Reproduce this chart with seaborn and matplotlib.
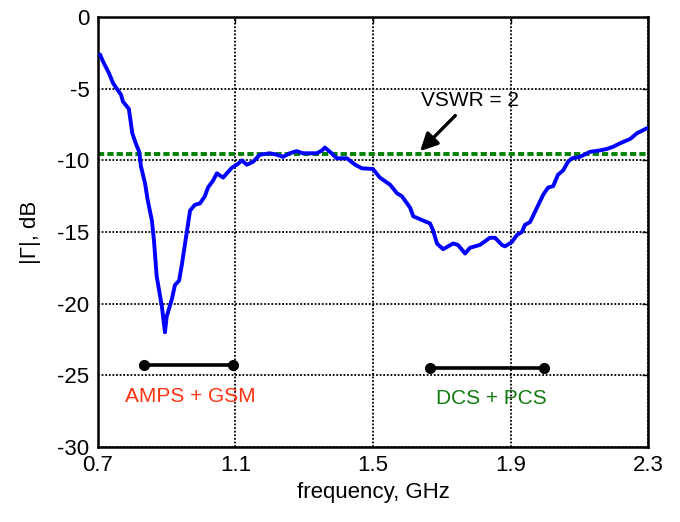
import numpy as np
import pandas as pd
import matplotlib
matplotlib.use('Agg')
import matplotlib.pyplot as plt
import seaborn as sns

freq_ghz = [0.706, 0.715, 0.732, 0.744, 0.755, 0.767, 0.773, 0.790, 0.800, 0.810,
            0.820, 0.825, 0.837, 0.845, 0.857, 0.863, 0.871, 0.886, 0.895, 0.900,
            0.915, 0.924, 0.936, 0.944, 0.956, 0.968, 0.982, 0.997, 1.011, 1.020,
            1.035, 1.046, 1.064, 1.090, 1.104, 1.119, 1.133, 1.151, 1.171, 1.200,
            1.220, 1.238, 1.258, 1.278, 1.296, 1.337, 1.352, 1.360, 1.375, 1.395,
            1.424, 1.448, 1.468, 1.500, 1.520, 1.550, 1.570, 1.584, 1.608, 1.617,
            1.646, 1.666, 1.675, 1.686, 1.704, 1.733, 1.747, 1.768, 1.782, 1.811,
            1.840, 1.855, 1.875, 1.884, 1.904, 1.919, 1.933, 1.942, 1.957, 1.977,
            1.995, 2.009, 2.024, 2.038, 2.053, 2.067, 2.079, 2.102, 2.131, 2.160,
            2.180, 2.198, 2.219, 2.248, 2.268, 2.297]
gamma_db = [-2.6, -3.1, -3.9, -4.6, -5.0, -5.4, -5.9, -6.4, -8.1, -8.8,
            -9.4, -10.4, -11.6, -12.8, -14.2, -15.6, -18.1, -20.2, -22.0, -20.9,
            -19.7, -18.7, -18.4, -17.3, -15.4, -13.5, -13.1, -13.0, -12.5, -11.9,
            -11.4, -10.9, -11.2, -10.5, -10.3, -10.0, -10.3, -10.1, -9.6, -9.5,
            -9.6, -9.75, -9.5, -9.35, -9.5, -9.5, -9.3, -9.1, -9.4, -9.85,
            -9.85, -10.3, -10.55, -10.6, -11.2, -11.7, -12.3, -12.5, -13.3, -13.9,
            -14.2, -14.4, -14.9, -15.8, -16.2, -15.8, -15.9, -16.5, -16.1, -15.9,
            -15.4, -15.4, -15.9, -16.0, -15.7, -15.2, -15.0, -14.5, -14.3, -13.3,
            -12.4, -11.9, -11.8, -11.0, -10.7, -10.1, -9.85, -9.75, -9.4, -9.3,
            -9.2, -9.05, -8.8, -8.5, -8.1, -7.75]

vswr2_db = -9.54

band_names = ['AMPS + GSM', 'DCS + PCS']
band_lo = [0.833, 1.666]
band_hi = [1.093, 1.996]
band_level = [-24.3, -24.5]
band_text_x = [0.97, 1.843]
band_text_y = [-26.5, -26.6]
band_colors = ['#ff3311', '#117a11']

x_ticks = [0.7, 1.1, 1.5, 1.9, 2.3]
y_ticks = [0, -5, -10, -15, -20, -25, -30]

df = pd.DataFrame({'freq': freq_ghz, 'gamma': gamma_db})

sns.set_style('white')
plt.rcParams['font.family'] = ['Liberation Sans', 'DejaVu Sans']
plt.rcParams['axes.unicode_minus'] = False
plt.rcParams['text.color'] = 'black'
plt.rcParams['axes.labelcolor'] = 'black'
plt.rcParams['xtick.color'] = 'black'
plt.rcParams['ytick.color'] = 'black'

fig = plt.figure(figsize=(6.8, 5.22), dpi=100)
ax = fig.add_axes([0.144, 0.144, 0.809, 0.823])

sns.lineplot(data=df, x='freq', y='gamma', ax=ax, color='#0000ff',
             linewidth=2.8, estimator=None, sort=False, zorder=3)

ax.axhline(vswr2_db, color='#008000', linewidth=2.8, dashes=(1.6, 0.8), zorder=2)

for lo, hi, lev in zip(band_lo, band_hi, band_level):
    ax.plot([lo, hi], [lev, lev], color='black', linewidth=2.6,
            marker='o', markersize=7, zorder=4)
for name, tx, ty, c in zip(band_names, band_text_x, band_text_y, band_colors):
    ax.text(tx, ty, name, color=c, fontsize=15, ha='center', va='center')

ax.annotate('VSWR = 2', xy=(1.637, -9.35), xytext=(1.782, -6.5),
            fontsize=15, ha='center', va='bottom', color='black',
            arrowprops=dict(arrowstyle='-|>,head_length=0.7,head_width=0.35',
                            color='black', lw=2.4, shrinkA=2, shrinkB=0))

ax.set_xlim(0.7, 2.3)
ax.set_ylim(-30, 0)
ax.set_xticks(x_ticks)
ax.set_xticklabels([str(t) for t in x_ticks])
ax.set_yticks(y_ticks)
ax.grid(True, color='black', linestyle=(0, (1, 1)), linewidth=1.3)
ax.tick_params(direction='in', length=4, width=1, labelsize=16,
               top=True, right=True, pad=6, colors='black')
for s in ax.spines.values():
    s.set_color('black')
    s.set_linewidth(1.8)

ax.set_xlabel('frequency, GHz', fontsize=16, labelpad=4)
ax.set_ylabel('|\u0393|, dB', fontsize=16, labelpad=12)

fig.savefig('out.png', dpi=100)
